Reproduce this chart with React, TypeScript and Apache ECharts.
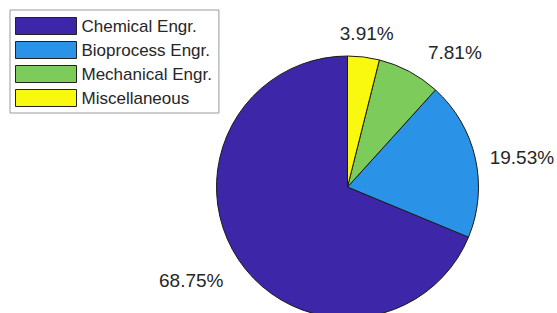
import React, { useEffect, useRef } from "react";
import * as echarts from "echarts";

const categories = ["Chemical Engr.", "Bioprocess Engr.", "Mechanical Engr.", "Miscellaneous"];
const values = [68.75, 19.53, 7.81, 3.91];
const colors = ["#3E26A8", "#2A93E8", "#7DCB5A", "#F9F90F"];

const CX = 347.5;
const CY = 187;
const R = 131;
// small label position tweaks (layout only), indexed like categories
const labelNudge: [number, number][] = [
  [6.5, 6],
  [-11, 4.5],
  [0, 0],
  [0, 2],
];

export default function App() {
  const ref = useRef<HTMLDivElement>(null);
  useEffect(() => {
    document.body.style.margin = "0";
    const chart = echarts.init(ref.current!, null, { renderer: "svg" });
    chart.setOption({
      animation: false,
      backgroundColor: "#ffffff",
      legend: {
        orient: "vertical",
        left: 10,
        top: 10,
        itemWidth: 61,
        itemHeight: 17,
        itemGap: 6,
        padding: [7, 7, 6, 5],
        borderColor: "#9a9a9a",
        borderWidth: 1,
        backgroundColor: "#ffffff",
        icon: "rect",
        selectedMode: false,
        textStyle: { fontFamily: "Liberation Sans, Arial, sans-serif", fontSize: 17, color: "#262626" },
        itemStyle: { borderColor: "#222", borderWidth: 1 },
        data: categories,
      },
      series: [
        {
          type: "pie",
          center: [CX, CY],
          radius: R,
          startAngle: 90,
          clockwise: false,
          silent: true,
          itemStyle: { borderColor: "#1a1a1a", borderWidth: 1 },
          label: {
            show: true,
            position: "outside",
            formatter: (p: any) => p.value.toFixed(2) + "%",
            fontFamily: "Liberation Sans, Arial, sans-serif",
            fontSize: 19,
            color: "#262626",
            distanceToLabelLine: 0,
            width: 90,
          },
          labelLine: { show: false, length: 26, length2: 0 },
          labelLayout: (p: any) => {
            const r = p.labelRect;
            const n = labelNudge[p.dataIndex] || [0, 0];
            const out: any = { dx: n[0], dy: n[1] };
            if (r.x > CX && r.x - CX < 40) out.align = "center";
            return out;
          },
          data: categories.map((name, i) => ({ name, value: values[i], itemStyle: { color: colors[i] } })),
        },
      ],
    });
    return () => chart.dispose();
  }, []);
  return <div ref={ref} style={{ width: 557, height: 313 }} />;
}
